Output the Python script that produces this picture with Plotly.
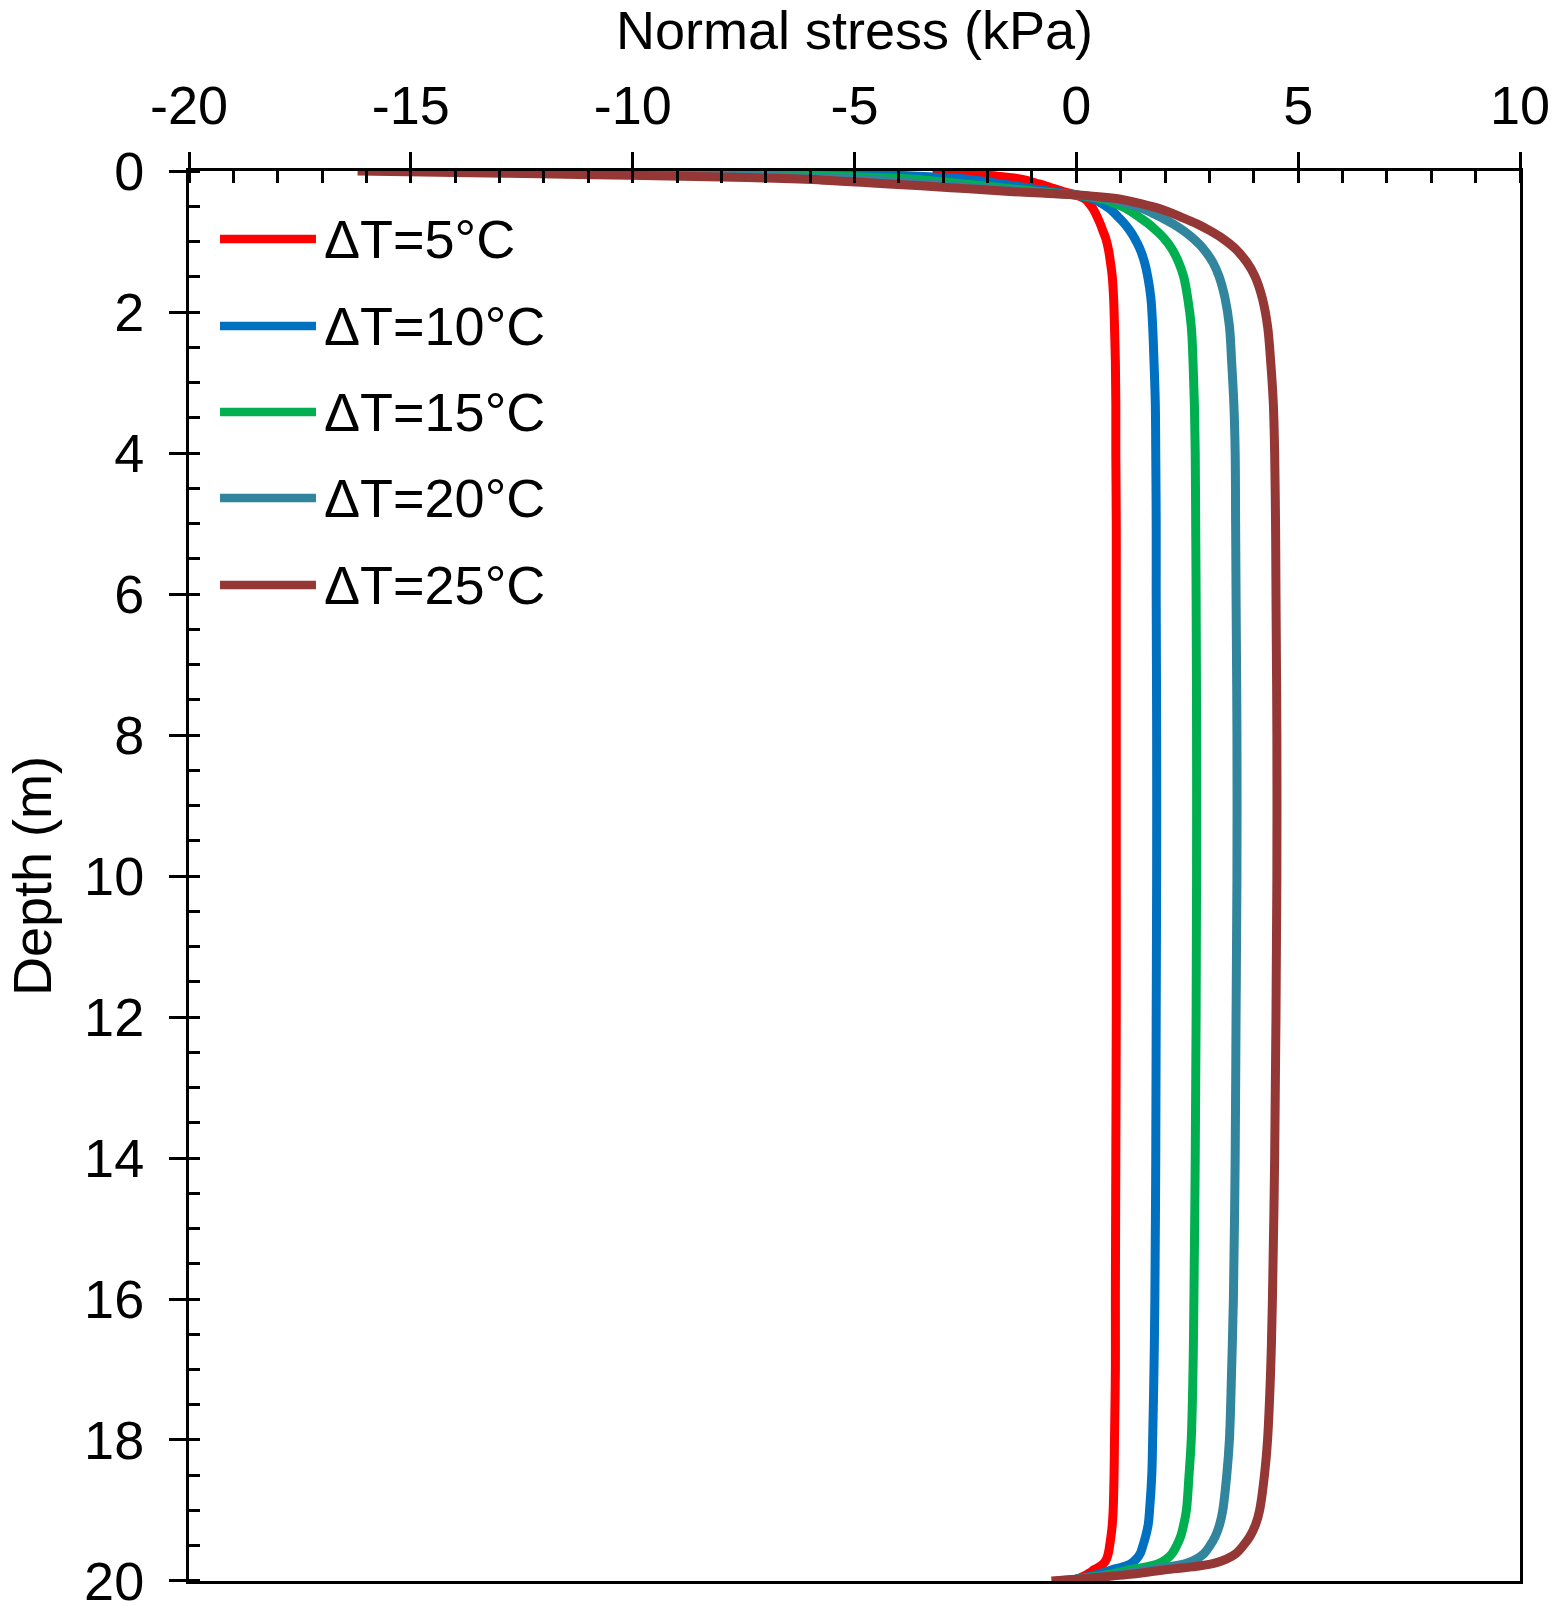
import plotly.graph_objects as go

# Depth (m)
depth = [0, 0.02, 0.04, 0.06, 0.08, 0.10, 0.13, 0.17, 0.21, 0.25, 0.29,
         0.34, 0.40, 0.46, 0.55, 0.65, 0.75, 0.85, 0.95, 1.1, 1.3,
         1.5, 1.8, 2.2, 2.7, 3.3, 4.0, 5, 6, 8, 10,
         12, 14, 16, 17, 18, 18.5, 19, 19.2, 19.37, 19.5,
         19.61, 19.69, 19.75, 19.80, 19.84, 19.88, 19.91, 19.94, 19.97, 20]

# Normal stress (kPa) for each temperature change
stress_dT5 = [-3.24, -2.80, -2.42, -2.02, -1.66, -1.40, -1.14, -0.92, -0.70, -0.50, -0.30,
              0.00, 0.20, 0.29, 0.39, 0.47, 0.54, 0.60, 0.66, 0.72, 0.77,
              0.81, 0.84, 0.86, 0.88, 0.89, 0.89, 0.90, 0.90, 0.90, 0.90,
              0.90, 0.89, 0.88, 0.88, 0.86, 0.85, 0.83, 0.81, 0.78, 0.75,
              0.72, 0.68, 0.62, 0.52, 0.40, 0.31, 0.23, 0.13, 0.02, -0.11]
stress_dT10 = [-6.48, -5.60, -4.84, -4.04, -3.32, -2.80, -2.28, -1.84, -1.40, -1.00, -0.60,
               0.00, 0.40, 0.57, 0.78, 0.94, 1.09, 1.21, 1.31, 1.43, 1.54,
               1.61, 1.68, 1.72, 1.75, 1.78, 1.79, 1.80, 1.80, 1.81, 1.81,
               1.80, 1.79, 1.77, 1.75, 1.72, 1.70, 1.65, 1.62, 1.56, 1.50,
               1.44, 1.35, 1.24, 1.05, 0.80, 0.62, 0.46, 0.26, 0.03, -0.22]
stress_dT15 = [-9.72, -8.40, -7.26, -6.06, -4.98, -4.20, -3.42, -2.76, -2.10, -1.50, -0.90,
               0.00, 0.60, 0.86, 1.17, 1.41, 1.63, 1.81, 1.97, 2.15, 2.31,
               2.42, 2.51, 2.59, 2.63, 2.66, 2.68, 2.69, 2.70, 2.71, 2.71,
               2.70, 2.68, 2.65, 2.63, 2.59, 2.54, 2.48, 2.42, 2.35, 2.26,
               2.16, 2.03, 1.86, 1.57, 1.20, 0.93, 0.69, 0.39, 0.05, -0.34]
stress_dT20 = [-12.96, -11.20, -9.68, -8.08, -6.64, -5.60, -4.56, -3.68, -2.80, -2.00, -1.20,
               0.00, 0.80, 1.14, 1.56, 1.88, 2.18, 2.42, 2.62, 2.86, 3.08,
               3.22, 3.35, 3.45, 3.50, 3.55, 3.58, 3.59, 3.60, 3.62, 3.62,
               3.60, 3.58, 3.54, 3.50, 3.45, 3.39, 3.30, 3.23, 3.13, 3.01,
               2.88, 2.70, 2.48, 2.10, 1.60, 1.24, 0.92, 0.52, 0.06, -0.45]
stress_dT25 = [-16.20, -14.00, -12.10, -10.10, -8.30, -7.00, -5.70, -4.60, -3.50, -2.50, -1.50,
               0.00, 1.00, 1.43, 1.95, 2.35, 2.72, 3.02, 3.28, 3.58, 3.85,
               4.03, 4.19, 4.31, 4.38, 4.44, 4.47, 4.49, 4.50, 4.52, 4.52,
               4.50, 4.47, 4.42, 4.38, 4.31, 4.24, 4.13, 4.04, 3.91, 3.76,
               3.60, 3.38, 3.10, 2.62, 2.00, 1.55, 1.15, 0.65, 0.08, -0.56]

series_names = ["ΔT=5°C", "ΔT=10°C", "ΔT=15°C", "ΔT=20°C", "ΔT=25°C"]
series_values = [stress_dT5, stress_dT10, stress_dT15, stress_dT20, stress_dT25]
series_colors = ["#FF0000", "#0070C0", "#00B050", "#31859C", "#953735"]

x_tickvals = [-20, -15, -10, -5, 0, 5, 10]
x_ticktext = ["-20", "-15", "-10", "-5", "0", "5", "10"]
y_tickvals = [0, 2, 4, 6, 8, 10, 12, 14, 16, 18, 20]
y_ticktext = ["0", "2", "4", "6", "8", "10", "12", "14", "16", "18", "20"]

FONT = "Liberation Sans, Arial, Helvetica, sans-serif"

fig = go.Figure()
for name, vals, col in zip(series_names, series_values, series_colors):
    fig.add_trace(go.Scatter(
        x=vals, y=depth, mode="lines", name=name,
        line=dict(color=col, width=9, shape="spline", smoothing=1.0),
        showlegend=False,
    ))

# custom legend (long sample lines like the reference)
leg_x0, leg_x1, leg_tx = 0.0233, 0.0954, 0.0999
leg_y = [0.9518, 0.8901, 0.8291, 0.7681, 0.7064]
for name, col, yy in zip(series_names, series_colors, leg_y):
    fig.add_shape(type="line", xref="paper", yref="paper",
                  x0=leg_x0, x1=leg_x1, y0=yy, y1=yy,
                  line=dict(color=col, width=8.5))
    fig.add_annotation(xref="paper", yref="paper", x=leg_tx, y=yy,
                       text=name, showarrow=False, xanchor="left", yanchor="middle",
                       font=dict(family=FONT, size=54, color="black"))

axis_common = dict(showgrid=False, zeroline=False, showline=True, linecolor="black",
                   linewidth=3, mirror=True, tickcolor="black", tickwidth=3,
                   ticklabeloverflow="allow", automargin=False,
                   tickfont=dict(family=FONT, size=54, color="black"))

fig.update_layout(
    width=1567, height=1606,
    margin=dict(l=189, r=47, t=171, b=25, autoexpand=False),
    paper_bgcolor="white", plot_bgcolor="white",
    font=dict(family=FONT, color="black"),
    xaxis=dict(**axis_common, side="top", range=[-20, 10],
               tickmode="array", tickvals=x_tickvals, ticktext=x_ticktext,
               ticks="outside", ticklen=16, ticklabelstandoff=6,
               minor=dict(ticks="inside", dtick=1, tick0=0, ticklen=12, tickwidth=3,
                          tickcolor="black", showgrid=False),
               title=dict(text="Normal stress (kPa)", font=dict(family=FONT, size=54, color="black"),
                          standoff=22)),
    yaxis=dict(**axis_common, range=[20.0001, -0.0001],
               tickmode="array", tickvals=y_tickvals, ticktext=y_ticktext,
               ticks="outside", ticklen=17, ticklabelstandoff=14,
               minor=dict(ticks="inside", dtick=0.5, tick0=0, ticklen=11, tickwidth=3,
                          tickcolor="black", showgrid=False),
               title=dict(text="Depth (m)", font=dict(family=FONT, size=54, color="black"),
                          standoff=16)),
    xaxis2=dict(overlaying="x", side="top", anchor="y", range=[-20, 10],
                tickmode="array", tickvals=x_tickvals, automargin=False,
                ticks="inside", ticklen=12, tickwidth=3, tickcolor="black",
                showticklabels=False, showline=False, showgrid=False, zeroline=False),
    yaxis2=dict(overlaying="y", side="left", anchor="x", range=[20.0001, -0.0001],
                tickmode="array", tickvals=y_tickvals, automargin=False,
                ticks="inside", ticklen=11, tickwidth=3, tickcolor="black",
                showticklabels=False, showline=False, showgrid=False, zeroline=False),
)

fig.write_html("out.html")
